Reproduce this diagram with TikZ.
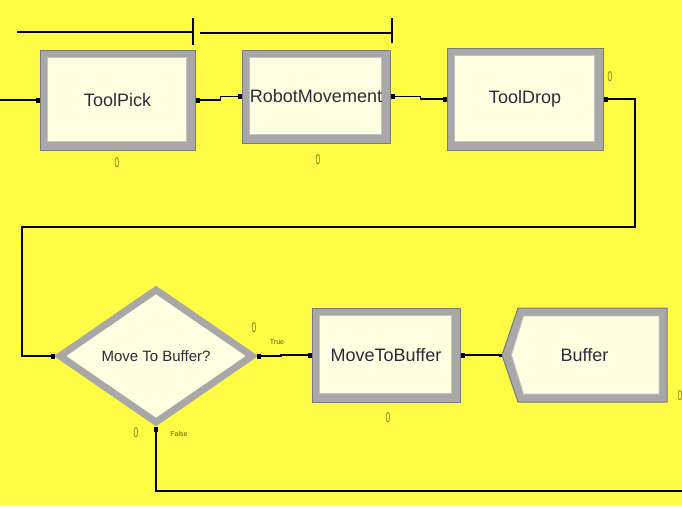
\documentclass[tikz,border=0pt]{standalone}
\usepackage{fontspec}
\setmainfont{Liberation Sans}
\usetikzlibrary{shapes.geometric,calc}
\definecolor{bg}{HTML}{FFFC45}
\definecolor{cream}{HTML}{FFFFE2}
\definecolor{frame}{HTML}{A8A8A8}
\definecolor{frameedge}{HTML}{7A7A7A}
\definecolor{txt}{HTML}{2A2C3A}
\definecolor{cnt}{HTML}{8C7A14}
\begin{document}
\begin{tikzpicture}[x=1pt,y=-1pt,
  mbox/.style={rectangle, fill=frame, draw=frameedge, line width=1pt, inner sep=0pt,
    font=\fontsize{18}{18}\selectfont, text=txt,
    path picture={\filldraw[fill=cream, draw=frame!70!white, line width=0.8pt] ([xshift=7pt,yshift=9pt]path picture bounding box.south west) rectangle ([xshift=-9pt,yshift=-7pt]path picture bounding box.north east);}},
  dec/.style={diamond, fill=cream, draw=frame, line width=7pt, minimum width=195pt, minimum height=135pt,
    inner sep=0pt, font=\fontsize{15}{15}\selectfont, text=txt},
  conn/.style={line width=1.6pt, black},
  port/.style={rectangle, fill=black, minimum width=4pt, minimum height=5pt, inner sep=0pt},
  cntlbl/.style={text=cnt, font=\fontsize{14}{14}\selectfont, inner sep=0pt},
  tinylbl/.style={text=cnt!70!black, font=\fontsize{7}{7}\selectfont, inner sep=0pt}]
\fill[bg] (0,0) rectangle (682,506);
\useasboundingbox (0,0) rectangle (682,506);

% top bars
\draw[conn] (17,32) -- (193,32);
\draw[conn] (193,18) -- (193,45);
\draw[conn] (200,33) -- (392,33);
\draw[conn] (392,18) -- (392,43);

% modules
\node[mbox, minimum width=155pt, minimum height=100pt] (toolpick) at (117.5,100) {ToolPick};
\node[mbox, minimum width=148pt, minimum height=93pt] (robot) at (316,96.5) {RobotMovement};
\node[mbox, minimum width=156pt, minimum height=102pt] (tooldrop) at (525,99) {ToolDrop};
\node[dec] (dia) at (156,356) {Move To Buffer?};
\node[mbox, minimum width=148pt, minimum height=94pt] (mtb) at (386,355) {MoveToBuffer};

% buffer shape
\coordinate (bufc) at (584.5,355);
\filldraw[fill=frame, draw=frameedge, line width=1pt]
  ([xshift=-66.5pt,yshift=47pt]bufc) -- ([xshift=82.5pt,yshift=47pt]bufc) --
  ([xshift=82.5pt,yshift=-47pt]bufc) -- ([xshift=-66.5pt,yshift=-47pt]bufc) --
  ([xshift=-82.5pt]bufc) -- cycle;
\filldraw[fill=cream, draw=frame!70!white, line width=0.8pt]
  ([xshift=-61pt,yshift=39pt]bufc) -- ([xshift=74.5pt,yshift=39pt]bufc) --
  ([xshift=74.5pt,yshift=-39pt]bufc) -- ([xshift=-61pt,yshift=-39pt]bufc) --
  ([xshift=-73pt]bufc) -- cycle;
\node[rectangle, minimum width=165pt, minimum height=94pt, inner sep=0pt,
  font=\fontsize{18}{18}\selectfont, text=txt] (buffer) at (bufc) {Buffer};

% connectors
\coordinate (inl) at (0,100);
\draw[conn] (inl) -- (toolpick.west);
\draw[conn] (toolpick.east) -- ++(25,0) |- (robot.west);
\draw[conn] (robot.east) -- ++(30,0) |- (tooldrop.west);
\coordinate (b1) at (635,227);
\coordinate (b2) at (22,227);
\draw[conn] (tooldrop.east) -| (b1) -- (b2) |- (dia.west);
\draw[conn] (dia.east) -- ++(24,0) |- (mtb.west);
\draw[conn] (mtb.east) -- (buffer.west);
\coordinate (fend) at (682,491);
\draw[conn] (dia.south) |- (fend);

% ports
\node[port] at ([xshift=-2pt]toolpick.west) {};
\node[port] at ([xshift=2pt]toolpick.east) {};
\node[port] at ([xshift=-2pt]robot.west) {};
\node[port] at ([xshift=2pt]robot.east) {};
\node[port] at ([xshift=-2pt]tooldrop.west) {};
\node[port] at ([xshift=2pt]tooldrop.east) {};
\node[port] at ([xshift=-2pt]dia.west) {};
\node[port] at ([xshift=2pt]dia.east) {};
\node[port] at ([yshift=-2pt]dia.south) {};
\node[port] at ([xshift=-2pt]mtb.west) {};
\node[port] at ([xshift=2pt]mtb.east) {};
\node[port, minimum width=3pt, minimum height=3pt] at ([xshift=-1pt]buffer.west) {};

% counters
\node[cntlbl] (z1) at (117,163) {\scalebox{0.6}[1]{0}};
\node[cntlbl] (z2) at (318,160) {\scalebox{0.6}[1]{0}};
\node[cntlbl] (z3) at (610,77) {\scalebox{0.6}[1]{0}};
\node[cntlbl] (z4) at (254,328) {\scalebox{0.6}[1]{0}};
\node[cntlbl] (z5) at (136,433) {\scalebox{0.6}[1]{0}};
\node[cntlbl] (z6) at (388,418) {\scalebox{0.6}[1]{0}};
\node[cntlbl] (z7) at (680,396) {\scalebox{0.6}[1]{0}};
\node[tinylbl] (ttrue) at (277,342) {True};
\node[tinylbl] (tfalse) at (179,434) {False};
\end{tikzpicture}
\end{document}
